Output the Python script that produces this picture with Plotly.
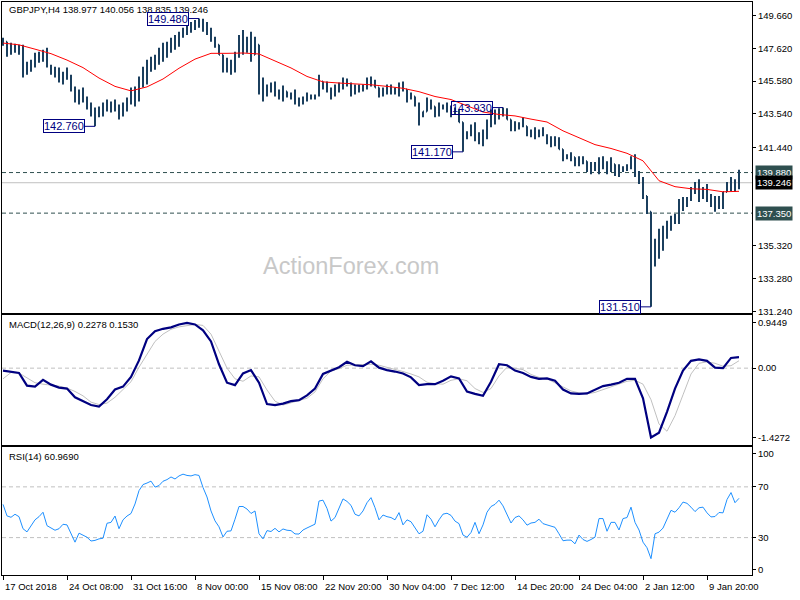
import plotly.graph_objects as go

# ---------------- data ----------------
bars = list(range(185))

highs = [
    148.28, 148.03, 147.97, 147.91, 147.84, 147.84, 146.79, 146.91, 147.35, 147.41,
    147.53, 147.66, 146.60, 146.48, 146.42, 146.17, 146.42, 145.98, 145.24, 145.05,
    145.18, 144.62, 144.25, 143.94, 144.00, 144.25, 144.43, 144.31, 144.43, 144.12,
    144.25, 144.56, 145.18, 145.24, 145.86, 146.48, 146.91, 147.10, 147.22, 147.66,
    147.97, 148.03, 148.28, 148.46, 148.65, 148.90, 149.08, 149.27, 149.39, 149.48,
    149.46, 149.27, 148.90, 148.34, 147.84, 147.22, 147.04, 146.91, 147.41, 148.46,
    148.77, 148.34, 148.65, 148.34, 147.84, 145.80, 145.36, 145.49, 145.55, 145.05,
    145.30, 144.93, 144.87, 145.05, 144.56, 144.62, 144.87, 144.74, 144.74, 145.98,
    145.55, 145.55, 145.18, 145.36, 145.49, 145.80, 145.74, 145.49, 145.36, 145.36,
    145.36, 145.80, 145.86, 145.67, 145.18, 145.18, 145.36, 145.36, 145.18, 145.49,
    145.55, 145.05, 144.87, 144.62, 144.25, 143.69, 144.56, 144.43, 144.00, 144.25,
    144.12, 144.25, 144.00, 143.94, 143.81, 143.01, 142.45, 142.88, 143.01, 142.39,
    142.57, 143.19, 143.81, 143.81, 143.88, 143.93, 143.88, 143.19, 143.07, 143.01,
    143.32, 142.76, 142.57, 142.70, 142.57, 142.70, 142.26, 142.14, 142.14, 142.08,
    141.33, 141.02, 141.15, 140.84, 140.90, 140.90, 140.59, 140.53, 140.53, 140.84,
    140.90, 140.59, 140.84, 140.40, 140.40, 140.28, 140.40, 140.90, 141.02, 139.97,
    139.60, 138.42, 137.43, 135.75, 136.37, 136.56, 136.87, 137.18, 137.30, 138.23,
    138.36, 138.36, 138.98, 139.29, 139.47, 138.98, 139.16, 138.54, 138.42, 138.42,
    138.67, 139.29, 139.60, 139.47, 140.056,
]

lows = [
    147.78, 147.10, 147.22, 147.35, 147.22, 145.80, 145.98, 146.17, 146.42, 146.73,
    146.79, 146.42, 145.98, 145.80, 145.49, 145.36, 145.67, 144.93, 144.25, 144.12,
    144.25, 143.81, 143.38, 142.76, 143.32, 143.38, 143.69, 143.63, 143.69, 143.19,
    143.38, 143.69, 144.12, 144.00, 144.31, 145.18, 145.36, 146.17, 146.29, 146.60,
    146.79, 147.04, 147.35, 147.53, 147.72, 148.28, 148.46, 148.59, 148.77, 148.90,
    148.65, 148.46, 148.03, 147.66, 147.22, 146.11, 146.11, 145.98, 146.11, 147.04,
    147.22, 147.35, 146.79, 147.22, 144.74, 144.31, 144.62, 144.87, 144.62, 144.43,
    144.31, 144.56, 144.43, 144.12, 144.00, 144.12, 144.31, 144.43, 144.43, 144.62,
    145.05, 144.87, 144.43, 144.62, 144.87, 145.05, 145.24, 144.62, 144.74, 144.87,
    144.93, 145.05, 145.24, 145.18, 144.56, 144.62, 144.74, 144.74, 144.74, 144.62,
    144.93, 144.25, 144.43, 144.00, 142.82, 143.32, 143.69, 143.81, 143.32, 143.38,
    143.81, 143.63, 143.32, 143.50, 143.01, 141.17, 141.95, 142.14, 141.83, 141.64,
    141.52, 141.95, 142.70, 142.88, 143.19, 143.38, 143.19, 142.45, 142.45, 142.57,
    142.70, 142.14, 142.08, 141.95, 142.08, 142.14, 141.64, 141.46, 141.52, 141.33,
    140.59, 140.71, 140.59, 140.28, 140.28, 140.40, 139.91, 139.78, 139.97, 139.78,
    140.09, 139.78, 139.91, 139.66, 139.60, 139.91, 139.97, 140.09, 139.60, 139.16,
    138.23, 137.30, 131.51, 134.02, 134.51, 135.01, 135.75, 136.25, 136.68, 136.68,
    137.49, 137.74, 138.11, 138.54, 138.05, 138.23, 138.05, 137.74, 137.43, 137.61,
    137.61, 138.67, 138.73, 138.67, 138.835,
]

closes = [
    148.03, 147.41, 147.66, 147.53, 147.66, 146.17, 146.42, 146.73, 147.04, 147.16,
    147.41, 146.54, 146.29, 146.05, 145.67, 146.05, 145.80, 145.05, 144.56, 144.74,
    144.43, 144.00, 143.57, 143.69, 143.81, 144.12, 143.94, 144.19, 143.81, 143.69,
    144.12, 144.43, 144.93, 145.05, 145.67, 146.17, 146.60, 146.79, 147.04, 147.41,
    147.66, 147.84, 148.03, 148.28, 148.46, 148.71, 148.90, 149.08, 149.21, 149.27,
    148.90, 148.65, 148.15, 147.84, 147.22, 146.42, 146.60, 146.29, 147.22, 148.15,
    147.84, 148.15, 147.22, 147.84, 145.05, 145.18, 145.05, 145.18, 144.87, 144.74,
    144.93, 144.74, 144.62, 144.31, 144.43, 144.50, 144.68, 144.62, 144.68, 145.55,
    145.36, 145.05, 144.93, 145.18, 145.36, 145.55, 145.43, 145.05, 145.18, 145.24,
    145.30, 145.67, 145.55, 145.18, 144.93, 145.05, 145.05, 144.93, 145.05, 145.18,
    145.05, 144.56, 144.62, 144.19, 143.50, 143.69, 144.31, 144.00, 143.69, 143.94,
    143.94, 144.00, 143.69, 143.69, 143.01, 142.26, 142.33, 142.57, 141.95, 141.83,
    142.45, 143.07, 143.69, 143.63, 143.81, 143.69, 143.19, 142.70, 142.88, 142.76,
    142.76, 142.45, 142.33, 142.45, 142.20, 142.20, 141.83, 141.95, 141.70, 141.33,
    140.96, 140.90, 140.84, 140.53, 140.71, 140.59, 140.22, 140.09, 140.40, 140.59,
    140.40, 140.09, 140.40, 139.97, 140.09, 140.16, 140.22, 140.71, 139.78, 139.29,
    138.42, 137.43, 134.20, 135.44, 136.06, 136.25, 136.50, 136.87, 137.12, 137.92,
    138.11, 138.23, 138.73, 139.10, 138.36, 138.73, 138.36, 138.11, 137.92, 138.23,
    138.67, 139.10, 139.35, 138.977, 139.246,
]
first_open = 148.10
opens = [first_open] + closes[:-1]

ma_bars = list(range(0, 185, 4))
ma_values = [
    147.95, 147.84, 147.57, 147.29, 146.89, 146.42, 145.77, 145.25, 144.97, 145.22,
    145.71, 146.38, 146.95, 147.31, 147.31, 147.33, 147.27, 146.85, 146.40, 145.87,
    145.53, 145.46, 145.42, 145.35, 145.25, 145.13, 144.92, 144.62, 144.43, 144.02,
    143.65, 143.50, 143.41, 143.21, 143.03, 142.48, 142.03, 141.62, 141.38, 141.08,
    140.61, 139.37, 139.00, 138.87, 138.83, 138.68, 138.71,
]

macd_bars = list(range(0, 185, 2))
macd_values = [
    -0.05, -0.08, -0.10, -0.36, -0.38, -0.24, -0.34, -0.40, -0.42, -0.60,
    -0.68, -0.76, -0.79, -0.64, -0.44, -0.38, -0.18, 0.16, 0.60, 0.76,
    0.81, 0.84, 0.90, 0.93, 0.90, 0.78, 0.55, 0.08, -0.30, -0.35,
    -0.11, -0.04, -0.30, -0.74, -0.76, -0.73, -0.68, -0.66, -0.56, -0.42,
    -0.12, -0.05, 0.02, 0.13, 0.06, 0.04, 0.14, 0.01, -0.04, -0.07,
    -0.11, -0.19, -0.35, -0.33, -0.33, -0.26, -0.17, -0.21, -0.48, -0.53,
    -0.57, -0.28, 0.08, 0.06, -0.05, -0.10, -0.18, -0.22, -0.21, -0.26,
    -0.44, -0.52, -0.53, -0.52, -0.45, -0.37, -0.34, -0.30, -0.22, -0.22,
    -0.62, -1.4272, -1.33, -0.90, -0.42, -0.05, 0.15, 0.18, 0.15, 0.01,
    0.00, 0.21, 0.2278,
]
signal_values = [
    -0.22, -0.09, -0.10, -0.20, -0.30, -0.33, -0.35, -0.37, -0.41, -0.48,
    -0.57, -0.70, -0.75, -0.72, -0.60, -0.45, -0.28, 0.02, 0.30, 0.55,
    0.70, 0.80, 0.85, 0.88, 0.90, 0.88, 0.70, 0.35, 0.00, -0.22,
    -0.27, -0.16, -0.18, -0.45, -0.68, -0.76, -0.71, -0.67, -0.62, -0.49,
    -0.22, -0.06, -0.01, 0.06, 0.07, 0.07, 0.08, 0.06, 0.02, -0.02,
    -0.07, -0.12, -0.18, -0.29, -0.32, -0.33, -0.25, -0.22, -0.26, -0.42,
    -0.50, -0.42, -0.16, 0.02, 0.00, -0.03, -0.13, -0.19, -0.22, -0.30,
    -0.38, -0.47, -0.51, -0.53, -0.50, -0.44, -0.38, -0.32, -0.27, -0.25,
    -0.33, -0.65, -1.15, -1.30, -0.98, -0.55, -0.12, 0.10, 0.13, 0.10,
    0.04, 0.05, 0.1530,
]

rsi_values = [
    56.2, 47.1, 46.0, 48.4, 46.5, 37.0, 34.5, 39.0, 44.0, 46.5,
    50.0, 39.4, 37.5, 35.8, 37.0, 40.5, 40.0, 33.5, 26.4, 33.5,
    32.0, 30.3, 27.3, 27.8, 29.0, 29.5, 41.3, 42.0, 47.0, 37.0,
    44.0, 47.0, 49.0, 56.5, 67.0, 71.8, 73.0, 74.5, 69.8, 71.0,
    74.4, 75.7, 77.8, 76.2, 78.6, 80.0, 79.0, 78.6, 79.6, 79.0,
    69.5, 62.0, 51.0, 43.2, 38.5, 30.5, 35.0, 35.3, 44.5, 54.5,
    54.5, 52.5, 49.0, 51.0, 33.0, 29.0, 35.5, 34.8, 37.3, 34.5,
    36.8, 35.8, 35.5, 32.9, 32.8, 36.0, 37.6, 39.2, 40.6, 58.8,
    59.5, 53.0, 43.0, 45.8, 53.0, 60.5, 58.5, 55.4, 48.4, 47.1,
    51.0, 57.5, 61.5, 53.6, 44.0, 47.8, 46.5, 45.8, 44.0, 49.7,
    40.0, 44.0, 42.5, 38.1, 33.0, 35.0, 48.0, 44.5, 38.5, 44.0,
    48.5, 49.2, 47.5, 43.0, 41.0, 32.0, 30.3, 34.0, 42.0, 33.0,
    40.0, 50.0, 54.5, 56.2, 59.5, 55.0, 48.0, 41.5, 45.8, 47.1,
    44.0, 39.8, 41.5, 42.0, 44.5, 41.0, 40.0, 39.0, 38.1, 33.0,
    27.5, 28.0, 28.0, 25.1, 32.0, 28.5, 27.0, 28.5, 30.3, 45.0,
    45.0, 35.0, 42.0, 42.0, 36.0, 45.0, 45.8, 54.0, 42.0, 36.0,
    26.4, 22.0, 13.4, 33.0, 34.3, 37.5, 45.0, 51.5, 50.0, 53.5,
    58.0, 57.0, 54.0, 50.5, 53.5, 54.0, 49.5, 46.3, 46.6, 49.8,
    49.5, 60.0, 65.5, 57.5, 60.969,
]

date_ticks = list(range(0, 177, 16))
date_labels = ["17 Oct 2018", "24 Oct 08:00", "31 Oct 16:00", "8 Nov 00:00",
               "15 Nov 08:00", "22 Nov 20:00", "30 Nov 04:00", "7 Dec 12:00",
               "14 Dec 20:00", "24 Dec 04:00", "2 Jan 12:00", "9 Jan 20:00"]
price_ticks = [149.66, 147.62, 145.58, 143.54, 141.44, 135.32, 133.28, 131.24]
macd_ticks = [0.9449, 0.0, -1.4272]
macd_ticktext = ["0.9449", "0.00", "-1.4272"]
rsi_levels = [70, 30]
# the 100 / 0 captions sit slightly inside the panel edges, as in the original
rsi_tick_pos = [95.9, 70, 30, 4.6]
rsi_tick_text = ["100", "70", "30", "0"]
resistance = 139.880
support = 137.350
last_price = 139.246
swing_bars = [49, 23, 125, 115, 162]
swing_prices = [149.480, 142.760, 143.930, 141.170, 131.510]

assert len(highs) == len(lows) == len(closes) == len(bars) == len(rsi_values)
assert len(ma_values) == len(ma_bars)
assert len(macd_values) == len(macd_bars) == len(signal_values)

# ---------------- figure ----------------
FONT = "Liberation Sans, Arial, sans-serif"
BAR = "#1b3f5e"
DARK = "#2f4f4f"
W, H = 800, 600
x_left, x_right = 2 / W, 752 / W

fig = go.Figure()
fig.add_trace(go.Ohlc(
    x=bars, open=opens, high=highs, low=lows, close=closes,
    increasing=dict(line=dict(color=BAR, width=2)),
    decreasing=dict(line=dict(color=BAR, width=2)),
    tickwidth=0.25, xaxis="x", yaxis="y", hoverinfo="skip", showlegend=False))
fig.add_trace(go.Scatter(x=ma_bars, y=ma_values, mode="lines",
                         line=dict(color="#ff0000", width=1),
                         xaxis="x", yaxis="y", showlegend=False, hoverinfo="skip"))
fig.add_trace(go.Scatter(x=macd_bars, y=signal_values, mode="lines",
                         line=dict(color="#c0c0c0", width=1),
                         xaxis="x2", yaxis="y2", showlegend=False, hoverinfo="skip"))
fig.add_trace(go.Scatter(x=macd_bars, y=macd_values, mode="lines",
                         line=dict(color="#000080", width=2.2),
                         xaxis="x2", yaxis="y2", showlegend=False, hoverinfo="skip"))
fig.add_trace(go.Scatter(x=bars, y=rsi_values, mode="lines",
                         line=dict(color="#1e90ff", width=1),
                         xaxis="x3", yaxis="y3", showlegend=False, hoverinfo="skip"))

xcommon = dict(range=[-0.25, 187.25], domain=[x_left, x_right], showgrid=False,
               zeroline=False, showline=True, mirror=True, linecolor="black",
               linewidth=1, showticklabels=False, fixedrange=True)
ycommon = dict(showgrid=False, zeroline=False, showline=True, mirror=True,
               linecolor="black", linewidth=1, side="right", ticks="outside",
               ticklen=3, tickcolor="black", fixedrange=True,
               tickfont=dict(family=FONT, size=9.5, color="black"))

fig.update_layout(
    width=W, height=H, margin=dict(l=0, r=0, t=0, b=0),
    paper_bgcolor="white", plot_bgcolor="white", showlegend=False,
    font=dict(family=FONT, size=9.5, color="black"),
    xaxis=dict(**xcommon, anchor="y", rangeslider=dict(visible=False)),
    xaxis2=dict(**xcommon, anchor="y2"),
    xaxis3=dict(**xcommon, anchor="y3", ticks="outside", tickvals=date_ticks,
                ticklen=4, tickcolor="black"),
    yaxis=dict(**ycommon, anchor="x", domain=[1 - 315 / H, 1 - 2 / H],
               range=[131.10, 150.51], tickvals=price_ticks,
               ticktext=[f"{v:.3f}" for v in price_ticks]),
    yaxis2=dict(**ycommon, anchor="x2", domain=[1 - 447 / H, 1 - 317 / H],
                range=[-1.578, 1.086], tickvals=macd_ticks, ticktext=macd_ticktext),
    yaxis3=dict(**ycommon, anchor="x3", domain=[1 - 578 / H, 1 - 449 / H],
                range=[0.43, 101.6], tickvals=rsi_tick_pos, ticktext=rsi_tick_text),
)

shapes = []
for lvl in (resistance, support):
    shapes.append(dict(type="line", xref="paper", x0=x_left, x1=x_right, yref="y",
                       y0=lvl, y1=lvl, line=dict(color=DARK, width=1, dash="4px,3px"),
                       layer="below"))
shapes.append(dict(type="line", xref="paper", x0=x_left, x1=x_right, yref="y",
                   y0=last_price, y1=last_price, line=dict(color="#c0c0c0", width=1),
                   layer="below"))
shapes.append(dict(type="line", xref="paper", x0=x_left, x1=x_right, yref="y2",
                   y0=0, y1=0, line=dict(color="#c0c0c0", width=1, dash="4px,3px"),
                   layer="below"))
for lvl in rsi_levels:
    shapes.append(dict(type="line", xref="paper", x0=x_left, x1=x_right, yref="y3",
                       y0=lvl, y1=lvl, line=dict(color="#c0c0c0", width=1, dash="4px,3px"),
                       layer="below"))
fig.update_layout(shapes=shapes)

ann = []
ann.append(dict(xref="paper", yref="paper", x=7 / W, y=1 - 10 / H, xanchor="left",
                yanchor="middle", showarrow=False,
                text="GBPJPY,H4 138.977 140.056 138.835 139.246",
                font=dict(family=FONT, size=9.5, color="black")))
ann.append(dict(xref="paper", yref="paper", x=7 / W, y=1 - 326 / H, xanchor="left",
                yanchor="middle", showarrow=False, text="MACD(12,26,9) 0.2278 0.1530",
                font=dict(family=FONT, size=9.5, color="black")))
ann.append(dict(xref="paper", yref="paper", x=7 / W, y=1 - 459 / H, xanchor="left",
                yanchor="middle", showarrow=False, text="RSI(14) 60.9690",
                font=dict(family=FONT, size=9.5, color="black")))
ann.append(dict(xref="paper", yref="paper", x=351 / W, y=1 - 267 / H, xanchor="center",
                yanchor="middle", showarrow=False, text="ActionForex.com",
                font=dict(family=FONT, size=23.5, color="#c8c8c8")))
for b, p in zip(swing_bars, swing_prices):
    ann.append(dict(xref="x", yref="y", x=b, y=p, text=f"{p:.3f}", showarrow=True,
                    arrowhead=0, arrowwidth=1, arrowcolor="#000080", ax=-31, ay=0,
                    bordercolor="#000080", borderwidth=1, borderpad=0,
                    bgcolor="rgba(255,255,255,0)",
                    font=dict(family=FONT, size=11, color="#000080")))
for lvl, bg in ((resistance, DARK), (last_price, "black"), (support, DARK)):
    ann.append(dict(xref="paper", yref="y", x=755 / W, y=lvl, xanchor="left",
                    yanchor="middle", showarrow=False, text=f"{lvl:.3f}",
                    bgcolor=bg, borderpad=1,
                    font=dict(family=FONT, size=9.5, color="white")))
for t, lab in zip(date_ticks, date_labels):
    ann.append(dict(xref="x3", yref="paper", x=t, y=1 - 589 / H, xanchor="left",
                    yanchor="middle", xshift=0, showarrow=False, text=lab,
                    font=dict(family=FONT, size=9.5, color="black")))
fig.update_layout(annotations=ann)

fig.write_html("out.html", config={"displayModeBar": False},
               post_script="document.body.style.margin='0';document.body.style.padding='0';")
